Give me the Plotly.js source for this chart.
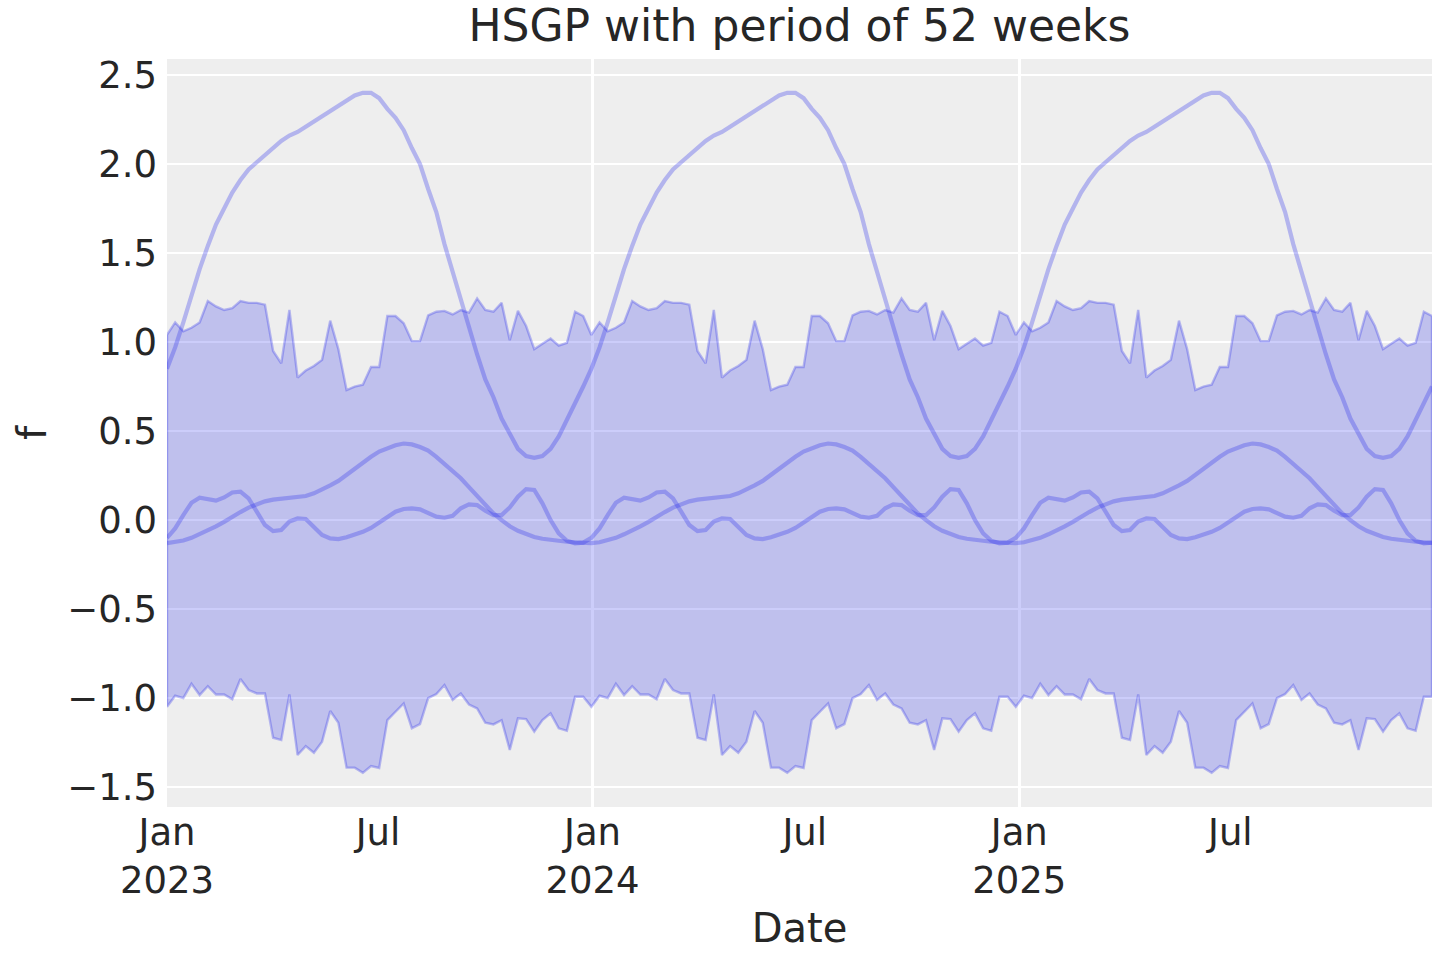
<!DOCTYPE html>
<html>
<head>
<meta charset="utf-8">
<script src="https://cdn.plot.ly/plotly-3.0.1.min.js"></script>
<style>html,body{margin:0;padding:0;background:#fff;}#chart{width:1440px;height:960px;}</style>
</head>
<body>
<div id="chart"></div>
<script>
// Weekly dates: 156 weeks starting 2023-01-01
var nWeeks = 156;
var dates = [];
for (var i = 0; i < nWeeks; i++) {
  dates.push(new Date(Date.UTC(2023, 0, 1) + i * 7 * 864e5).toISOString().slice(0, 10));
}

// Upper edge of the HDI band
var hdiUpper = [
  1.04,1.11,1.06,1.08,1.11,1.23,1.20,1.18,1.19,1.23,1.22,1.22,1.21,0.95,0.88,1.18,0.80,0.84,0.865,0.90,1.12,0.96,0.73,0.75,0.76,0.86,0.86,1.146,1.146,1.105,1.005,1.005,1.15,1.17,1.175,1.155,1.18,1.165,1.245,1.18,1.17,1.22,1.01,1.175,1.09,0.96,0.99,1.02,0.98,0.995,1.17,1.146,
  1.04,1.11,1.06,1.08,1.11,1.23,1.20,1.18,1.19,1.23,1.22,1.22,1.21,0.95,0.88,1.18,0.80,0.84,0.865,0.90,1.12,0.96,0.73,0.75,0.76,0.86,0.86,1.146,1.146,1.105,1.005,1.005,1.15,1.17,1.175,1.155,1.18,1.165,1.245,1.18,1.17,1.22,1.01,1.175,1.09,0.96,0.99,1.02,0.98,0.995,1.17,1.146,
  1.04,1.11,1.06,1.08,1.11,1.23,1.20,1.18,1.19,1.23,1.22,1.22,1.21,0.95,0.88,1.18,0.80,0.84,0.865,0.90,1.12,0.96,0.73,0.75,0.76,0.86,0.86,1.146,1.146,1.105,1.005,1.005,1.15,1.17,1.175,1.155,1.18,1.165,1.245,1.18,1.17,1.22,1.01,1.175,1.09,0.96,0.99,1.02,0.98,0.995,1.17,1.146
];

// Lower edge of the HDI band
var hdiLower = [
  -1.049,-0.987,-1.00,-0.92,-0.983,-0.933,-0.98,-0.98,-1.007,-0.893,-0.955,-0.974,-0.974,-1.223,-1.236,-0.98,-1.32,-1.27,-1.307,-1.245,-1.073,-1.139,-1.391,-1.391,-1.42,-1.382,-1.393,-1.124,-1.077,-1.03,-1.17,-1.146,-1.00,-0.978,-0.927,-1.011,-0.974,-1.036,-1.058,-1.139,-1.148,-1.124,-1.292,-1.114,-1.118,-1.189,-1.124,-1.086,-1.17,-1.184,-0.993,-0.993,
  -1.049,-0.987,-1.00,-0.92,-0.983,-0.933,-0.98,-0.98,-1.007,-0.893,-0.955,-0.974,-0.974,-1.223,-1.236,-0.98,-1.32,-1.27,-1.307,-1.245,-1.073,-1.139,-1.391,-1.391,-1.42,-1.382,-1.393,-1.124,-1.077,-1.03,-1.17,-1.146,-1.00,-0.978,-0.927,-1.011,-0.974,-1.036,-1.058,-1.139,-1.148,-1.124,-1.292,-1.114,-1.118,-1.189,-1.124,-1.086,-1.17,-1.184,-0.993,-0.993,
  -1.049,-0.987,-1.00,-0.92,-0.983,-0.933,-0.98,-0.98,-1.007,-0.893,-0.955,-0.974,-0.974,-1.223,-1.236,-0.98,-1.32,-1.27,-1.307,-1.245,-1.073,-1.139,-1.391,-1.391,-1.42,-1.382,-1.393,-1.124,-1.077,-1.03,-1.17,-1.146,-1.00,-0.978,-0.927,-1.011,-0.974,-1.036,-1.058,-1.139,-1.148,-1.124,-1.292,-1.114,-1.118,-1.189,-1.124,-1.086,-1.17,-1.184,-0.993,-0.993
];

// Sample curve A (large amplitude)
var sampleA = [
  0.85,0.97,1.11,1.27,1.41,1.54,1.66,1.75,1.84,1.91,1.97,2.01,2.05,2.09,2.13,2.16,2.18,2.21,2.24,2.27,2.30,2.33,2.36,2.385,2.40,2.40,2.37,2.31,2.26,2.19,2.09,2.00,1.86,1.73,1.55,1.39,1.24,1.08,0.93,0.79,0.69,0.57,0.48,0.40,0.36,0.35,0.36,0.40,0.47,0.56,0.65,0.75,
  0.85,0.97,1.11,1.27,1.41,1.54,1.66,1.75,1.84,1.91,1.97,2.01,2.05,2.09,2.13,2.16,2.18,2.21,2.24,2.27,2.30,2.33,2.36,2.385,2.40,2.40,2.37,2.31,2.26,2.19,2.09,2.00,1.86,1.73,1.55,1.39,1.24,1.08,0.93,0.79,0.69,0.57,0.48,0.40,0.36,0.35,0.36,0.40,0.47,0.56,0.65,0.75,
  0.85,0.97,1.11,1.27,1.41,1.54,1.66,1.75,1.84,1.91,1.97,2.01,2.05,2.09,2.13,2.16,2.18,2.21,2.24,2.27,2.30,2.33,2.36,2.385,2.40,2.40,2.37,2.31,2.26,2.19,2.09,2.00,1.86,1.73,1.55,1.39,1.24,1.08,0.93,0.79,0.69,0.57,0.48,0.40,0.36,0.35,0.36,0.40,0.47,0.56,0.65,0.75
];

// Sample curve B (smooth, medium amplitude)
var sampleB = [
  -0.13,-0.125,-0.115,-0.10,-0.08,-0.06,-0.035,-0.01,0.02,0.045,0.07,0.09,0.105,0.115,0.12,0.125,0.127,0.135,0.15,0.17,0.195,0.22,0.255,0.29,0.325,0.355,0.385,0.405,0.42,0.43,0.425,0.41,0.39,0.355,0.315,0.28,0.235,0.185,0.135,0.085,0.037,0.0,-0.035,-0.06,-0.08,-0.095,-0.105,-0.112,-0.117,-0.122,-0.125,-0.128,
  -0.13,-0.125,-0.115,-0.10,-0.08,-0.06,-0.035,-0.01,0.02,0.045,0.07,0.09,0.105,0.115,0.12,0.125,0.127,0.135,0.15,0.17,0.195,0.22,0.255,0.29,0.325,0.355,0.385,0.405,0.42,0.43,0.425,0.41,0.39,0.355,0.315,0.28,0.235,0.185,0.135,0.085,0.037,0.0,-0.035,-0.06,-0.08,-0.095,-0.105,-0.112,-0.117,-0.122,-0.125,-0.128,
  -0.13,-0.125,-0.115,-0.10,-0.08,-0.06,-0.035,-0.01,0.02,0.045,0.07,0.09,0.105,0.115,0.12,0.125,0.127,0.135,0.15,0.17,0.195,0.22,0.255,0.29,0.325,0.355,0.385,0.405,0.42,0.43,0.425,0.41,0.39,0.355,0.315,0.28,0.235,0.185,0.135,0.085,0.037,0.0,-0.035,-0.06,-0.08,-0.095,-0.105,-0.112,-0.117,-0.122,-0.125,-0.128
];

// Sample curve C (wiggly, small amplitude)
var sampleC = [
  -0.10,-0.047,0.028,0.097,0.125,0.118,0.109,0.127,0.155,0.159,0.122,0.047,-0.028,-0.062,-0.056,-0.009,0.009,0.006,-0.037,-0.084,-0.103,-0.107,-0.097,-0.084,-0.066,-0.044,-0.014,0.019,0.047,0.062,0.066,0.06,0.041,0.019,0.013,0.024,0.066,0.088,0.084,0.052,0.028,0.028,0.071,0.131,0.174,0.169,0.094,0.0,-0.075,-0.116,-0.131,-0.127,
  -0.10,-0.047,0.028,0.097,0.125,0.118,0.109,0.127,0.155,0.159,0.122,0.047,-0.028,-0.062,-0.056,-0.009,0.009,0.006,-0.037,-0.084,-0.103,-0.107,-0.097,-0.084,-0.066,-0.044,-0.014,0.019,0.047,0.062,0.066,0.06,0.041,0.019,0.013,0.024,0.066,0.088,0.084,0.052,0.028,0.028,0.071,0.131,0.174,0.169,0.094,0.0,-0.075,-0.116,-0.131,-0.127,
  -0.10,-0.047,0.028,0.097,0.125,0.118,0.109,0.127,0.155,0.159,0.122,0.047,-0.028,-0.062,-0.056,-0.009,0.009,0.006,-0.037,-0.084,-0.103,-0.107,-0.097,-0.084,-0.066,-0.044,-0.014,0.019,0.047,0.062,0.066,0.06,0.041,0.019,0.013,0.024,0.066,0.088,0.084,0.052,0.028,0.028,0.071,0.131,0.174,0.169,0.094,0.0,-0.075,-0.116,-0.131,-0.127
];

// Tick labels
var yearTickVals = ["2023-01-01", "2024-01-01", "2025-01-01"];
var yearTickText = ["Jan<br>2023", "Jan<br>2024", "Jan<br>2025"];
var midTickVals = ["2023-07-01", "2024-07-01", "2025-07-01"];
var midTickText = ["Jul", "Jul", "Jul"];
var yTickVals = [-1.5, -1.0, -0.5, 0.0, 0.5, 1.0, 1.5, 2.0, 2.5];

var BLUE = "42,46,236";

// Closed band polygon: upper edge forward, lower edge backward, back to start
var bandX = dates.concat(dates.slice().reverse()).concat([dates[0]]);
var bandY = hdiUpper.concat(hdiLower.slice().reverse()).concat([hdiUpper[0]]);

var traces = [
  {
    x: bandX, y: bandY, type: "scatter", mode: "lines",
    fill: "toself", fillcolor: "rgba(" + BLUE + ",0.24)",
    line: {color: "rgba(" + BLUE + ",0.3)", width: 2.4},
    hoverinfo: "skip", showlegend: false
  },
  {
    x: dates, y: sampleA, type: "scatter", mode: "lines",
    line: {color: "rgba(" + BLUE + ",0.3)", width: 4.2},
    showlegend: false
  },
  {
    x: dates, y: sampleB, type: "scatter", mode: "lines",
    line: {color: "rgba(" + BLUE + ",0.3)", width: 4.2},
    showlegend: false
  },
  {
    x: dates, y: sampleC, type: "scatter", mode: "lines", xaxis: "x2",
    line: {color: "rgba(" + BLUE + ",0.3)", width: 4.2},
    showlegend: false
  }
];

var xRange = [dates[0], dates[dates.length - 1]];
var tickFont = {family: "DejaVu Sans", size: 37, color: "#262626"};

var layout = {
  width: 1440, height: 960,
  margin: {l: 167, r: 8, t: 59, b: 153, pad: 0},
  paper_bgcolor: "#ffffff",
  plot_bgcolor: "#eeeeee",
  font: {family: "DejaVu Sans", color: "#262626"},
  showlegend: false,
  title: {
    text: "HSGP with period of 52 weeks",
    font: {family: "DejaVu Sans", size: 44, color: "#262626"},
    x: 0.5, xref: "paper", xanchor: "center",
    y: 0.973, yref: "container", yanchor: "middle"
  },
  xaxis: {
    type: "date", range: xRange, automargin: false,
    tickmode: "array", tickvals: yearTickVals, ticktext: yearTickText,
    showgrid: true, gridcolor: "#ffffff", gridwidth: 2.5,
    zeroline: false, showline: false, ticks: "",
    tickfont: tickFont,
    title: {text: "Date", font: {family: "DejaVu Sans", size: 40, color: "#262626"}, standoff: 12}
  },
  xaxis2: {
    type: "date", range: xRange, overlaying: "x", anchor: "y", side: "bottom",
    automargin: false,
    tickmode: "array", tickvals: midTickVals, ticktext: midTickText,
    showgrid: false, zeroline: false, showline: false, ticks: "",
    tickfont: tickFont
  },
  yaxis: {
    range: [-1.612, 2.59], automargin: false,
    tickmode: "array", tickvals: yTickVals, tickformat: ".1f",
    showgrid: true, gridcolor: "#ffffff", gridwidth: 2.5,
    zeroline: false, showline: false, ticks: "",
    ticklabelstandoff: 9,
    tickfont: tickFont,
    title: {text: "f", font: {family: "DejaVu Sans", size: 40, color: "#262626"}, standoff: 8}
  }
};

Plotly.newPlot("chart", traces, layout, {displayModeBar: false, staticPlot: true});
</script>
</body>
</html>
